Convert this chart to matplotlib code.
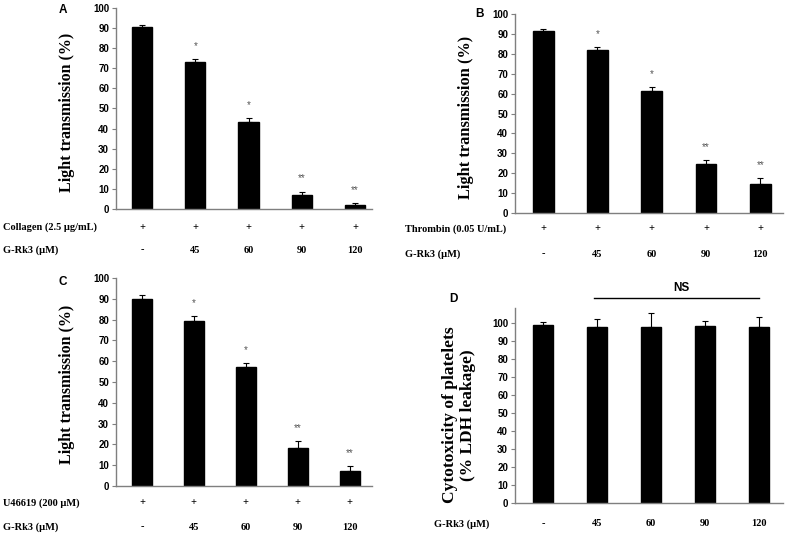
import matplotlib
matplotlib.use('Agg')
import matplotlib.pyplot as plt
import matplotlib.transforms as mtransforms
import numpy as np

# data
doses = ['-', '45', '60', '90', '120']

coll_mean = [90.5, 73.0, 43.3, 7.0, 2.0]
coll_err = [1.0, 1.8, 2.0, 1.7, 0.8]
coll_sig = ['', '*', '*', '**', '**']

thr_mean = [91.5, 82.0, 61.3, 24.5, 14.5]
thr_err = [1.0, 1.5, 2.2, 2.0, 3.0]
thr_sig = ['', '*', '*', '**', '**']

u466_mean = [90.0, 79.5, 57.0, 18.5, 7.3]
u466_err = [2.0, 2.0, 2.0, 3.0, 2.2]
u466_sig = ['', '*', '*', '**', '**']

ldh_mean = [99.0, 98.0, 97.5, 98.3, 98.0]
ldh_err = [1.5, 4.0, 8.0, 3.0, 5.5]

W, H = 789, 537
fig = plt.figure(figsize=(W / 100, H / 100), dpi=100)

serif = 'Liberation Serif'
sans = 'Liberation Sans'
grey = '#7f7f7f'


def make_ax(left, right, top, bottom):
    return fig.add_axes([left / W, 1 - bottom / H, (right - left) / W, (bottom - top) / H])


def fy(py):
    return 1 - py / H


def panel(ax, means, errs, sig, xlim, ylim, yticks, ylabel, ylab_xy, ylab_size, letter,
          letter_xy, rows, lab_x):
    x = np.arange(len(means))
    ax.bar(x, means, width=0.38, color='black', edgecolor='black', zorder=2)
    ax.errorbar(x, means, yerr=[np.zeros(len(errs)), errs], fmt='none', ecolor='black',
                elinewidth=0.8, capsize=2, capthick=0.8, zorder=3)
    for xi, m, e, s in zip(x, means, errs, sig):
        if s:
            ax.text(xi, m + e + 4, s, ha='center', va='bottom', fontsize=7,
                    color='#555555', family=sans)
    ax.set_xlim(*xlim)
    ax.set_ylim(*ylim)
    ax.set_yticks(yticks)
    ax.set_xticks([])
    for sp in ['top', 'right']:
        ax.spines[sp].set_visible(False)
    for sp in ['left', 'bottom']:
        ax.spines[sp].set_color(grey)
        ax.spines[sp].set_linewidth(1.0)
    ax.tick_params(axis='y', direction='out', length=3, width=0.8, color=grey, pad=2)
    for lb in ax.get_yticklabels():
        lb.set_fontfamily(sans)
        lb.set_fontweight('bold')
        lb.set_fontsize(7)
    fig.text(ylab_xy[0] / W, fy(ylab_xy[1]), ylabel, rotation=90, ha='center', va='center',
             family=serif, fontweight='bold', fontsize=ylab_size, linespacing=1.2)
    fig.text(letter_xy[0] / W, fy(letter_xy[1]), letter, ha='center', va='center',
             family=sans, fontweight='bold', fontsize=8.5)
    trans = mtransforms.blended_transform_factory(ax.transData, fig.transFigure)
    for label, vals, py in rows:
        fig.text(lab_x / W, fy(py), label, ha='left', va='center', family=serif,
                 fontweight='bold', fontsize=7.5)
        for xi, v in zip(x, vals):
            ax.text(xi, fy(py), v, transform=trans, ha='center', va='center',
                    family=serif, fontweight='bold', fontsize=7.5)


plus = ['+'] * 5
ticks100 = np.arange(0, 101, 10)

axA = make_ax(116, 372, 8, 209)
panel(axA, coll_mean, coll_err, coll_sig, (-0.49, 4.32), (0, 100), ticks100,
      'Light transmission (%)', (67, 112), 11.5, 'A', (63, 10),
      [('Collagen (2.5 μg/mL)', plus, 227), ('G-Rk3 (μM)', doses, 250)], 3)

axB = make_ax(515, 783, 14, 213)
panel(axB, thr_mean, thr_err, thr_sig, (-0.52, 4.42), (0, 100), ticks100,
      'Light transmission (%)', (466, 117), 11.8, 'B', (480, 14),
      [('Thrombin (0.05 U/mL)', plus, 229), ('G-Rk3 (μM)', doses, 254)], 405)

axC = make_ax(116, 372, 278, 486)
panel(axC, u466_mean, u466_err, u466_sig, (-0.50, 4.43), (0, 100), ticks100,
      'Light transmission (%)', (67, 384), 11.5, 'C', (63, 282),
      [('U46619 (200 μM)', plus, 503), ('G-Rk3 (μM)', doses, 527)], 3)

axD = make_ax(515, 783, 308, 503)
panel(axD, ldh_mean, ldh_err, [''] * 5, (-0.52, 4.44), (0, 108.3), ticks100,
      'Cytotoxicity of platelets\n(% LDH leakage)', (459, 415), 12.5, 'D', (453, 299),
      [('G-Rk3 (μM)', doses, 524)], 434)
# NS bracket over the treated groups
transD = mtransforms.blended_transform_factory(axD.transData, fig.transFigure)
axD.plot([0.95, 4.0], [fy(298), fy(298)], transform=transD, color='black', lw=1.0,
         clip_on=False)
axD.text(2.55, fy(288), 'NS', transform=transD, ha='center', va='center', family=sans,
         fontweight='bold', fontsize=8.5)

fig.savefig('out.png', dpi=100)
